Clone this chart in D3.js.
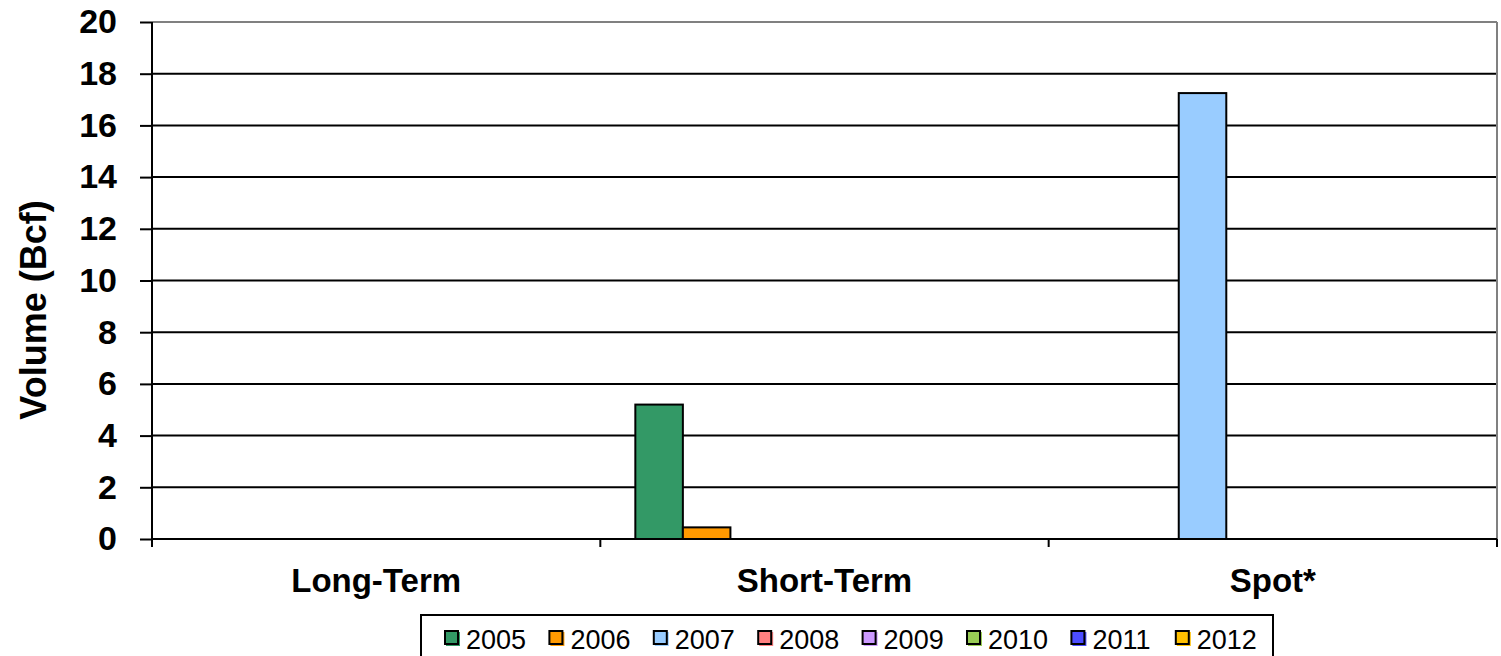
<!DOCTYPE html>
<html>
  <head>
    <style>
      body { margin: 0; padding: 0; overflow: hidden; background: #fff; }
      svg { display: block; }
      text { font-family: Arial, "Liberation Sans", sans-serif; }
    </style>
    <script src="https://cdnjs.cloudflare.com/ajax/libs/d3/7.8.5/d3.min.js"></script>
  </head>
  <body>
    <svg width="1501" height="656"></svg>
    <script>
      // Datos
      const categories = ['Long-Term', 'Short-Term', 'Spot*'];
      const years = ['2005', '2006', '2007', '2008', '2009', '2010', '2011', '2012'];
      const v2005 = [0, 5.2, 0];
      const v2006 = [0, 0.45, 0];
      const v2007 = [0, 0, 17.25];
      const v2008 = [0, 0, 0];
      const v2009 = [0, 0, 0];
      const v2010 = [0, 0, 0];
      const v2011 = [0, 0, 0];
      const v2012 = [0, 0, 0];
      const yTicks = [0, 2, 4, 6, 8, 10, 12, 14, 16, 18, 20];
      const colors = ['#339966', '#FF9900', '#99CCFF', '#FF8080', '#CC99FF', '#99CC55', '#4D4DFF', '#FFC000'];

      const seriesValues = [v2005, v2006, v2007, v2008, v2009, v2010, v2011, v2012];

      const svg = d3.select('svg');
      const plotLeft = 152, plotRight = 1497, plotTop = 22, plotBottom = 539;

      const y = d3.scaleLinear().domain([0, 20]).range([plotBottom, plotTop]);
      const x0 = d3.scaleBand().domain(categories).range([plotLeft, plotRight]).padding(0);
      const bw = x0.bandwidth();
      const x1 = d3.scaleBand().domain(years).range([35, bw - 33]).padding(0);

      // Líneas de cuadrícula
      svg.append('g')
        .selectAll('line')
        .data(yTicks.filter(d => d > 0))
        .enter()
        .append('line')
        .attr('x1', plotLeft).attr('x2', plotRight)
        .attr('y1', d => y(d)).attr('y2', d => y(d))
        .attr('stroke', d => d === 20 ? '#808080' : '#000')
        .attr('stroke-width', 2);

      // Borde derecho
      svg.append('line')
        .attr('x1', plotRight).attr('x2', plotRight)
        .attr('y1', plotTop).attr('y2', plotBottom)
        .attr('stroke', '#808080').attr('stroke-width', 2);

      // Barras
      const rows = [];
      seriesValues.forEach((vals, si) => {
        vals.forEach((v, ci) => {
          if (v > 0) rows.push({ year: years[si], cat: categories[ci], value: v, color: colors[si] });
        });
      });
      svg.append('g')
        .selectAll('rect')
        .data(rows)
        .enter()
        .append('rect')
        .attr('x', d => x0(d.cat) + x1(d.year))
        .attr('y', d => y(d.value))
        .attr('width', x1.bandwidth())
        .attr('height', d => y(0) - y(d.value))
        .attr('fill', d => d.color)
        .attr('stroke', '#000')
        .attr('stroke-width', 2);

      // Eje Y
      const yAxis = svg.append('g')
        .attr('transform', `translate(${plotLeft},0)`)
        .call(d3.axisLeft(y).tickValues(yTicks).tickSize(12).tickPadding(23));
      yAxis.select('.domain').attr('stroke-width', 2).attr('d', `M0,${plotTop}V${plotBottom + 8}`);
      yAxis.selectAll('.tick line').attr('stroke-width', 2);
      yAxis.selectAll('.tick text')
        .attr('font-size', 34).attr('font-weight', 'bold')
        .attr('font-family', 'Arial, "Liberation Sans", sans-serif')
        .attr('fill', '#000');

      // Eje X
      const xAxis = svg.append('g')
        .attr('transform', `translate(0,${plotBottom})`)
        .call(d3.axisBottom(x0).tickSize(0).tickPadding(30));
      xAxis.select('.domain').attr('stroke-width', 2).attr('d', `M${plotLeft},0H${plotRight}`);
      xAxis.selectAll('.tick text')
        .attr('font-size', 33).attr('font-weight', 'bold')
        .attr('font-family', 'Arial, "Liberation Sans", sans-serif')
        .attr('fill', '#000');
      xAxis.selectAll('.sep')
        .data(categories.map(c => x0(c)).concat([plotRight]))
        .enter()
        .append('line')
        .attr('class', 'sep')
        .attr('x1', d => d).attr('x2', d => d)
        .attr('y1', 0).attr('y2', 8)
        .attr('stroke', '#000').attr('stroke-width', 2);

      // Título eje Y
      svg.append('text')
        .attr('transform', 'translate(46,310) rotate(-90)')
        .attr('text-anchor', 'middle')
        .attr('font-size', 36).attr('font-weight', 'bold')
        .text('Volume (Bcf)');

      // Leyenda
      const legend = svg.append('g');
      legend.append('rect')
        .attr('x', 421).attr('y', 615)
        .attr('width', 852).attr('height', 60)
        .attr('fill', '#fff').attr('stroke', '#000').attr('stroke-width', 2);
      const items = legend.selectAll('g.item')
        .data(years)
        .enter()
        .append('g')
        .attr('class', 'item')
        .attr('transform', (d, i) => `translate(${445 + i * 104.4},631)`);
      items.append('rect')
        .attr('x', 1).attr('y', 1).attr('width', 14).attr('height', 14)
        .attr('fill', (d, i) => colors[i]);
      items.append('rect')
        .attr('x', 0).attr('y', 0).attr('width', 13).attr('height', 13)
        .attr('fill', (d, i) => colors[i])
        .attr('stroke', '#000').attr('stroke-width', 2);
      items.append('text')
        .attr('x', 21).attr('y', 18)
        .attr('font-size', 27)
        .attr('fill', '#000')
        .text(d => d);
    </script>
  </body>
</html>
